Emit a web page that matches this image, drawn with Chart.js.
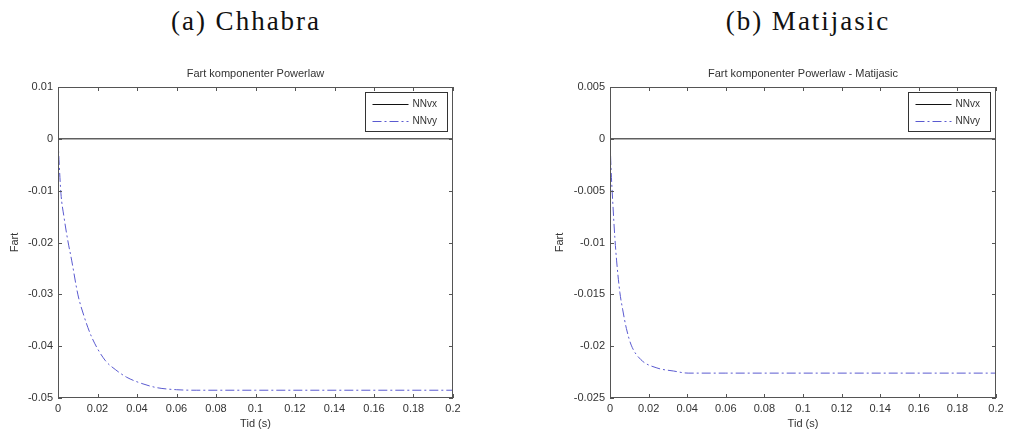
<!DOCTYPE html>
<html>
<head>
<meta charset="utf-8">
<script src="https://cdn.jsdelivr.net/npm/chart.js@4"></script>
<style>
body { margin: 0; background: #fff; width: 1013px; height: 434px; position: relative; overflow: hidden; }
.cap { position: absolute; top: 6px; font-family: "Liberation Serif", serif; font-size: 27px; letter-spacing: 2px; color: #111; transform: translateX(-50%); white-space: nowrap; }
.box { position: absolute; top: 50px; height: 384px; }
</style>
</head>
<body>
<div class="cap" style="left:246px">(a) Chhabra</div>
<div class="cap" style="left:808px">(b) Matijasic</div>
<div class="box" style="left:0;width:470px"><canvas id="chartA"></canvas></div>
<div class="box" style="left:520px;width:493px"><canvas id="chartB"></canvas></div>
<script>
// x ticks shared by both panels
const xTicks = [0, 0.02, 0.04, 0.06, 0.08, 0.1, 0.12, 0.14, 0.16, 0.18, 0.2];
const xRange = [0, 0.2];

// (a) Chhabra
const yTicksA = [0.01, 0, -0.01, -0.02, -0.03, -0.04, -0.05];
const timeA = [0, 0.0005, 0.0015, 0.003, 0.005, 0.0069, 0.0101, 0.013, 0.017, 0.0238, 0.029, 0.0348, 0.0424, 0.05, 0.06, 0.07, 0.1, 0.2];
const nnvyA = [0, -0.004, -0.0106, -0.015, -0.0197, -0.0234, -0.0301, -0.034, -0.0382, -0.0427, -0.0445, -0.046, -0.0472, -0.048, -0.0484, -0.0485, -0.0485, -0.0485];
const nnvxA = [0, 0];

// (b) Matijasic
const yTicksB = [0.005, 0, -0.005, -0.01, -0.015, -0.02, -0.025];
const timeB = [0, 0.0005, 0.0014, 0.0025, 0.0034, 0.0051, 0.0066, 0.0085, 0.011, 0.016, 0.0243, 0.033, 0.0405, 0.06, 0.2];
const nnvyB = [0, -0.0027, -0.006, -0.0095, -0.0117, -0.0148, -0.0165, -0.0183, -0.0199, -0.0213, -0.0221, -0.0224, -0.0226, -0.0226, -0.0226];
const nnvxB = [0, 0];

const seriesNames = ['NNvx', 'NNvy'];
const titles = ['Fart komponenter Powerlaw', 'Fart komponenter Powerlaw - Matijasic'];

const lineBlue = '#5a5ad0';
const dashDot = [9, 3, 2, 3];

// frame, inward ticks, title and legend box, MATLAB style
const matlabFrame = {
    id: 'matlabFrame',
    afterDatasetsDraw(chart, args, opts) {
        const ctx = chart.ctx;
        const a = chart.chartArea;
        const xs = chart.scales.x, ys = chart.scales.y;
        ctx.save();
        ctx.strokeStyle = '#555';
        ctx.lineWidth = 1;
        ctx.setLineDash([]);
        ctx.strokeRect(Math.round(a.left) + 0.5, Math.round(a.top) + 0.5, Math.round(a.right - a.left) - 1, Math.round(a.bottom - a.top) - 1);
        ctx.beginPath();
        xTicks.forEach(v => {
            const px = Math.round(xs.getPixelForValue(v)) + 0.5;
            ctx.moveTo(px, a.bottom); ctx.lineTo(px, a.bottom - 4);
            ctx.moveTo(px, a.top); ctx.lineTo(px, a.top + 4);
        });
        opts.yTicks.forEach(v => {
            const py = Math.round(ys.getPixelForValue(v)) + 0.5;
            ctx.moveTo(a.left, py); ctx.lineTo(a.left + 4, py);
            ctx.moveTo(a.right, py); ctx.lineTo(a.right - 4, py);
        });
        ctx.stroke();

        // title
        ctx.fillStyle = '#333';
        ctx.font = '11px "Liberation Sans", Arial, sans-serif';
        ctx.textAlign = 'center';
        ctx.textBaseline = 'alphabetic';
        ctx.fillText(opts.title, (a.left + a.right) / 2, a.top - 10);

        // legend
        const bw = 82, bh = 39;
        const bx = Math.round(a.right - 6 - bw) + 0.5, by = Math.round(a.top + 5) + 0.5;
        ctx.fillStyle = '#fff';
        ctx.fillRect(bx, by, bw, bh);
        ctx.strokeStyle = '#333';
        ctx.strokeRect(bx, by, bw, bh);
        ctx.textAlign = 'left';
        ctx.textBaseline = 'middle';
        ctx.font = '10px "Liberation Sans", Arial, sans-serif';
        chart.data.datasets.forEach((ds, i) => {
            const ry = Math.round(by + 11 + i * 17) + 0.5;
            ctx.strokeStyle = ds.borderColor;
            ctx.setLineDash(ds.borderDash || []);
            ctx.beginPath();
            ctx.moveTo(bx + 7, ry); ctx.lineTo(bx + 43, ry);
            ctx.stroke();
            ctx.fillStyle = '#333';
            ctx.fillText(ds.label, bx + 47, ry);
        });
        ctx.restore();
    }
};

function makeChart(id, time, nnvx, nnvy, yTicks, title, yWidth, yTitlePad) {
    const ctx = document.getElementById(id).getContext('2d');
    return new Chart(ctx, {
        type: 'line',
        data: {
            datasets: [{
                label: seriesNames[0],
                data: nnvx.map((v, i) => ({ x: xRange[i], y: v })),
                borderColor: '#111',
                borderWidth: 1,
                pointRadius: 0
            }, {
                label: seriesNames[1],
                data: time.map((t, i) => ({ x: t, y: nnvy[i] })),
                borderColor: lineBlue,
                borderWidth: 1,
                borderDash: dashDot,
                pointRadius: 0,
                cubicInterpolationMode: 'monotone'
            }]
        },
        options: {
            responsive: true,
            maintainAspectRatio: false,
            animation: false,
            layout: { padding: { top: 37, right: 17, left: 0, bottom: 0 } },
            plugins: {
                legend: { display: false },
                tooltip: { enabled: false },
                matlabFrame: { yTicks: yTicks, title: title }
            },
            scales: {
                x: {
                    type: 'linear',
                    min: xRange[0],
                    max: xRange[1],
                    afterBuildTicks: s => { s.ticks = xTicks.map(v => ({ value: v })); },
                    afterFit: s => { s.height = 36; },
                    grid: { display: false, drawTicks: false },
                    border: { display: false },
                    ticks: {
                        color: '#333',
                        padding: 4,
                        maxRotation: 0,
                        font: { family: '"Liberation Sans", Arial, sans-serif', size: 11 },
                        callback: v => String(Number(v.toFixed(3)))
                    },
                    title: {
                        display: true,
                        text: 'Tid (s)',
                        color: '#333',
                        padding: { top: 0, bottom: 3 },
                        font: { family: '"Liberation Sans", Arial, sans-serif', size: 11 }
                    }
                },
                y: {
                    min: yTicks[yTicks.length - 1],
                    max: yTicks[0],
                    afterBuildTicks: s => { s.ticks = yTicks.map(v => ({ value: v })); },
                    afterFit: s => { s.width = yWidth; },
                    grid: { display: false, drawTicks: false },
                    border: { display: false },
                    ticks: {
                        color: '#333',
                        padding: 5,
                        font: { family: '"Liberation Sans", Arial, sans-serif', size: 11 },
                        callback: v => String(Number(v.toFixed(4)))
                    },
                    title: {
                        display: true,
                        text: 'Fart',
                        color: '#333',
                        padding: { top: yTitlePad, bottom: 0 },
                        font: { family: '"Liberation Sans", Arial, sans-serif', size: 11 }
                    }
                }
            }
        },
        plugins: [matlabFrame]
    });
}

makeChart('chartA', timeA, nnvxA, nnvyA, yTicksA, titles[0], 58, 8);
makeChart('chartB', timeB, nnvxB, nnvyB, yTicksB, titles[1], 90, 33);
</script>
</body>
</html>
